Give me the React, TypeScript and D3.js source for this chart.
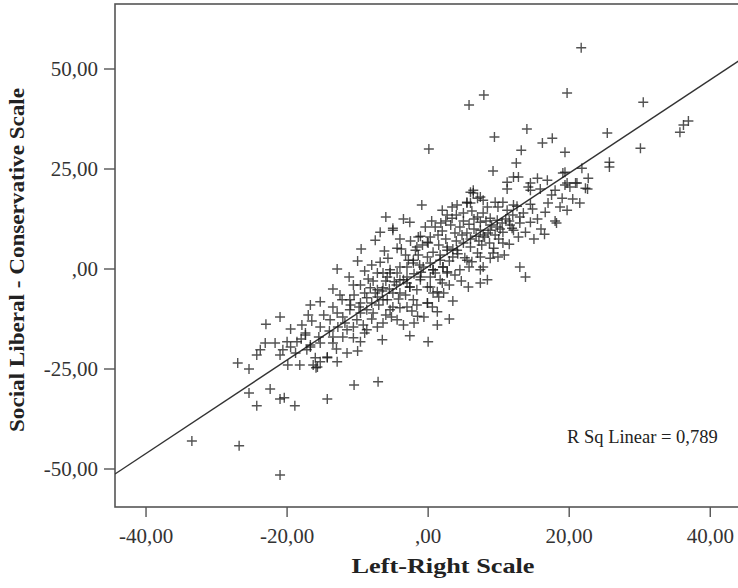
import React from "react";
import * as d3 from "d3";

const xTicks = [-40, -20, 0, 20, 40];
const yTicks = [-50, -25, 0, 25, 50];
const xTickLabels = ["-40,00", "-20,00", ",00", "20,00", "40,00"];
const yTickLabels = ["-50,00", "-25,00", ",00", "25,00", "50,00"];
const xTitle = "Left-Right Scale";
const yTitle = "Social Liberal - Conservative Scale";
const rSqLabel = "R Sq Linear = 0,789";
const fitIntercept = 0.6;
const fitSlope = 1.168;

// [Left-Right, Social Liberal-Conservative]
const points: [number, number][] = [
  [-33.5, -43], [-26.8, -44.2], [-21, -51.5], [-27, -23.5], [-25.4, -25], [-25.4, -31], [-24.3, -34.2],
  [-22.4, -30], [-21, -32.5], [-20.4, -32.2], [-18.9, -34.2], [-14.3, -32.5], [-10.5, -29], [-7.1, -28.2],
  [-24.3, -21.5], [-23.8, -20.2], [-23.1, -18.5], [-21.7, -18.5], [-21, -21.5], [-20.6, -20.2], [-20, -18.2],
  [-18.6, -18.2], [-19.9, -24], [-18.2, -24], [-16.3, -24], [-15.9, -24.7], [-15.3, -23.2], [-14.3, -22.2],
  [-12.9, -23.2], [-17.4, -16.5], [-16.7, -19.5], [-15.3, -18.5], [-13.5, -17], [-12.1, -17],
  [-23, -13.8], [-21, -12], [-19.5, -15],
  [-17.9, -14], [-17.4, -16], [-16.7, -9], [-15.3, -8.2], [-15.3, -14.5], [-13.9, -12.7], [-12.9, -11],
  [-12.1, -12], [-11.1, -10.2], [-9.6, -11], [-8.7, -10.2], [-7.8, -11], [-14.3, -22], [-16, -22.2],
  [-15.7, -24.5], [-17.2, -20.2], [-10.6, -17.2], [-9.6, -18.2], [-13.5, -18.5], [-11.5, -15.2], [-16.7, -19],
  [-10.1, -12.7], [-9.2, -14], [-10.6, -14.5], [-8.7, -15.2], [-7.2, -14.5], [-6.4, -13.5], [-7.2, -7],
  [-6.4, -7.7], [-8.7, -7.2], [-9.6, -8.5], [-11.1, -7.7], [-12.5, -6.5], [-12.2, -7.7], [-12.9, 0],
  [-10.6, -4], [-9.6, -4], [-8.2, -4.7], [-7.2, -5.2], [-6.4, -4.7],
  [-5.4, -10.2], [-4, -9.7], [-3, -9.5], [-1.6, -9], [-0.1, -8.5], [1.3, -10.7], [-4.4, -12.7], [-3.5, -14],
  [-2.6, -16.7], [0, -18.2], [-6.5, -17.7],
  [-7.2, -1], [-5.8, -2], [-4.4, -1], [-4, -2.7], [-3, -2], [-3.5, -2.7], [-2.6, -4.5], [-1.6, -5.2],
  [-0.1, -4.5], [0.7, -6], [-1.1, -2.7], [0.3, -2], [1.7, -2.7], [-3, 0.5], [-2.1, 1.5], [-0.7, 0.5],
  [0.3, 1.5], [0.7, -0.2], [-5.4, -0.2], [-6.4, -1],
  [-5, 9.7], [-1.1, 8.2], [-4.4, 5.2], [-6.8, 1.7], [-5.7, 2.7], [-1.8, 4.7], [-1.4, 3.5], [-0.1, 3],
  [0.7, 4.2], [1.7, 3.5], [2.7, 4.7], [2.1, 0.5], [2.7, -0.7], [-0.9, 16], [-2.6, 11.7], [-5, 10.2], [-6.8, 9.2],
  [13, 0.5], [13.8, -2], [5.7, -4.5], [7.4, -3.5], [8.4, -2.7], [7.4, -0.2], [7.8, 0.5], [9.2, 4], [9.9, 3], [8.8, 2.7],
  [21.7, 55.3], [5.8, 41], [7.9, 43.5], [19.7, 44], [9.4, 33], [14, 35], [16.2, 31.5], [17.6, 32.7],
  [19.4, 29.2], [13.2, 29.7], [0.1, 30], [30.5, 41.7], [25.4, 34], [30.1, 30.2], [35.7, 34.2], [36.2, 36],
  [36.9, 37], [25.7, 26.7], [25.7, 25.5], [21.8, 25.2], [22.7, 22.7], [12.5, 26.5], [9.2, 24.5], [12.1, 23],
  [12.8, 23], [15.5, 22.7], [16.9, 22.2], [19.1, 24], [11.2, 21.7], [11.2, 20], [14.5, 21.5], [14.5, 19.7],
  [15.9, 20], [18, 19.7], [19.4, 21], [20.1, 20.5], [21.1, 21.5], [22.6, 20], [22.3, 20.2], [19, 17.7],
  [18.7, 15.5], [19.7, 14.7], [16.6, 14.2], [18, 12], [18.2, 11.5], [14.5, 16.2], [14.8, 15], [12.6, 15.7],
  [13, 11.5], [11.9, 10.2], [10.6, 6.5], [14.2, 20.5], [19.4, 24.2], [19.7, 21.5], [20.9, 21.5],
  [2, 14.7], [3.4, 15.5], [4.1, 16], [2.7, 13.5], [3.4, 12.7], [5.5, 16.7], [6.4, 19], [6, 16.5], [7, 17.7],
  [7.8, 17.2], [8.4, 15.5], [9.5, 16.7], [9.9, 15.5], [10.6, 16.7], [11.2, 14.7], [12.1, 16],
  [7, 13], [7.4, 11.7], [8.8, 12.7], [9.8, 12.2], [7.4, 9.7], [7.8, 8.5], [8.8, 9.7], [9.8, 10.5], [10.6, 9.2],
  [11.6, 11], [12.1, 9.7], [13, 13], [13.5, 14],
  [-0.4, 10.5], [0.3, 8], [-0.1, 6.7], [-1.4, 8], [-1.6, 5.5], [1.4, 8.5],
  [2.7, 5.5], [4.1, 4.7], [5, 6.5], [6, 5.5], [7, 4], [3.5, 3], [1.7, 2.2], [2.1, 0.5], [0.7, -0.2], [2.7, -1],
  [4.5, -0.2], [5.5, 2.2], [7.4, 3], [-2.1, 2.2], [-4, 0.5], [-5.4, -1], [-1.1, -2], [0.3, -4.5], [1.3, -5.7],
  [-2.6, -4.5], [-4, -6], [-5.8, -7.7], [-2.1, -7.7], [-0.1, -8.5], [-5, -9.5],
  [6, 19.2], [6.4, 19.7], [7.4, 18], [5.5, 16.5],
  [3, 2], [3.5, 5], [4, 7], [4.8, 8.5], [5.5, 9], [6, 7.5], [6.5, 10], [6.8, 8.2], [7.2, 7], [7.6, 6], [8, 8],
  [8.5, 9], [9, 11], [9.5, 8.5], [10, 7.5], [10.2, 10], [10.5, 11.5], [11, 12.5], [11.5, 12], [12, 13.5],
  [8.2, 12], [7.8, 14], [6.5, 12.5], [5.8, 11.2], [5, 12], [4.5, 10.5], [3.8, 9], [3.2, 11], [2.5, 7.5],
  [2, 9.5], [1.5, 6], [1, 10.5], [0.5, 12], [4.2, 3.8], [5.2, 2.8], [6.2, 1.8], [5.8, 0.5], [3.8, -1.5],
  [4.7, -3], [3, -4], [2, -3.5], [1, -1], [8.7, 6.5], [9.3, 5.2], [10.8, 3.5], [11.5, 6.2], [12.8, 8],
  [13.8, 9.2], [14.5, 11.7], [15.5, 12.5], [16, 10], [15, 7.5], [16.5, 8.7], [17, 16.5], [17.5, 18.5],
  [20.5, 17.5], [21.5, 16.5], [6.2, 14.5], [5, 14], [4, 13.5], [2.5, 12], [1.8, 11.5], [0, 6.5], [-0.8, 6],
  [-2.5, 7], [-3.2, 3.5], [-3.8, 5], [-2.8, 2.2], [-1.2, 1], [-1, -0.8], [-2, -1.2], [-4.5, -4], [-5, -6],
  [-6, -3], [-6.5, -5.5], [-7.5, -6], [-8, -8.5], [-8.5, -2.5], [-9, -6], [-9.8, -9.5], [-10.5, -6.5],
  [-11, -9], [-11.8, -13.5], [-12.8, -14.5], [-13.5, -9.5], [-14, -15.5], [-14.8, -11.5], [-15.5, -17],
  [-16.5, -13], [-17, -11.5], [-18, -17.5], [-18.8, -21], [-19.5, -19.5], [-13, -20], [-11.5, -21],
  [-10, -20.5], [-9, -16], [-8, -12.5], [-7, -9], [-6, -11.5], [-5.2, -12], [-4.2, -7.5], [-3.2, -6.5],
  [-2.3, -10.5], [-1.5, -11.8], [-0.6, -12], [0.6, -9.5], [1.5, -7], [2.2, -6], [3.5, -8], [-2, -13.5],
  [-3, -3.5], [-4.8, -3.2], [-5.5, -5], [-7.8, -3], [-9, -0.5], [-8, 1], [-10, 2], [-6.2, 4.5], [-4, 7.5],
  [-3.5, 12.5], [-6, 13], [-7.5, 7.2], [-9.5, 5], [-11.2, -2], [-13.5, -5], [1.3, -14], [3, -12.5],
];

const W = 738;
const H = 588;
const plot = { left: 115, right: 742, top: 4, bottom: 507 };

export default function App() {
  const x = d3.scaleLinear().domain([-44.4, 44.5]).range([plot.left, plot.right]);
  const y = d3.scaleLinear().domain([-59.5, 66.25]).range([plot.bottom, plot.top]);
  const [x0, x1] = x.domain();
  const fitLine = d3
    .line<number>()
    .x((v) => x(v))
    .y((v) => y(fitIntercept + fitSlope * v))([x0, x1]);
  const font = "'Liberation Serif', 'Times New Roman', serif";
  const arm = 5;
  return (
    <svg width={W} height={H} style={{ position: "absolute", left: 0, top: 0, background: "#fff" }} fontFamily={font}>
      <defs>
        <clipPath id="plotclip">
          <rect x={plot.left} y={plot.top} width={plot.right - plot.left} height={plot.bottom - plot.top} />
        </clipPath>
      </defs>
      <rect x={plot.left} y={plot.top} width={plot.right - plot.left} height={plot.bottom - plot.top} fill="#fff" stroke="#555" strokeWidth={1.6} />
      <g clipPath="url(#plotclip)">
        <path d={fitLine || ""} stroke="#333" strokeWidth={1.4} fill="none" />
        {points.map(([a, b], i) => {
          const cx = x(a);
          const cy = y(b);
          return (
            <path
              key={i}
              d={`M${cx - arm},${cy}H${cx + arm}M${cx},${cy - arm}V${cy + arm}`}
              stroke="#1a1a1a"
              strokeOpacity={0.75}
              strokeWidth={1.4}
              fill="none"
            />
          );
        })}
      </g>
      {xTicks.map((t, i) => (
        <g key={"x" + t}>
          <line x1={x(t)} x2={x(t)} y1={plot.bottom} y2={plot.bottom + 10} stroke="#555" strokeWidth={1.4} />
          <text x={x(t)} y={543} textAnchor="middle" fontSize={21} fill="#333">{xTickLabels[i]}</text>
        </g>
      ))}
      {yTicks.map((t, i) => (
        <g key={"y" + t}>
          <line x1={plot.left - 11} x2={plot.left} y1={y(t)} y2={y(t)} stroke="#555" strokeWidth={1.4} />
          <text x={98} y={y(t) + 7} textAnchor="end" fontSize={21} fill="#333">{yTickLabels[i]}</text>
        </g>
      ))}
      <text x={443} y={573} textAnchor="middle" fontSize={21} fontWeight="bold" fill="#222" textLength={183} lengthAdjust="spacingAndGlyphs">{xTitle}</text>
      <text transform={`translate(24,260) rotate(-90)`} textAnchor="middle" fontSize={21} fontWeight="bold" fill="#222" textLength={344} lengthAdjust="spacingAndGlyphs">{yTitle}</text>
      <text x={567} y={443} fontSize={18.5} fill="#222">{rSqLabel}</text>
    </svg>
  );
}
